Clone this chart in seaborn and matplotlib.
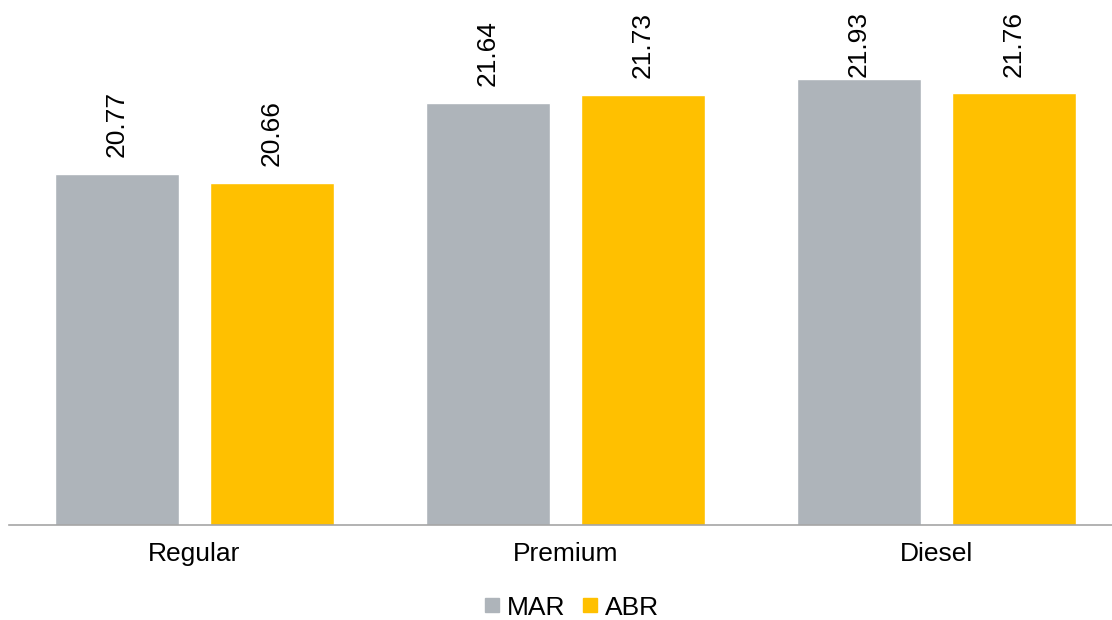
import matplotlib
matplotlib.use("Agg")
import matplotlib.pyplot as plt
from matplotlib.lines import Line2D
import seaborn as sns
import pandas as pd

categories = ["Regular", "Premium", "Diesel"]
mar_values = [20.77, 21.64, 21.93]
abr_values = [20.66, 21.73, 21.76]
series_names = ["MAR", "ABR"]
colors = {"MAR": "#AEB4BA", "ABR": "#FFC000"}

df = pd.DataFrame({
    "cat": categories * 2,
    "serie": [series_names[0]] * 3 + [series_names[1]] * 3,
    "val": mar_values + abr_values,
})

sns.set_style("white")
plt.rcParams["font.family"] = ["Liberation Sans", "DejaVu Sans"]
plt.rcParams["text.color"] = "black"
plt.rcParams["xtick.color"] = "black"

fig = plt.figure(figsize=(11.12, 6.2), dpi=100)
ax = fig.add_axes([9 / 1112, 95 / 620, 1103 / 1112, 525 / 620])

sns.barplot(data=df, x="cat", y="val", hue="serie", palette=colors,
            width=0.836, gap=0.2, ax=ax, legend=False, saturation=1)

ymin, ymax = 16.5, 22.89
ax.set_ylim(ymin, ymax)
ax.set_xlim(-0.5, 2.5 - 10 / 371)
ax.set_xlabel("")
ax.set_ylabel("")
ax.set_yticks([])
ax.tick_params(axis="x", length=0, labelsize=19, labelcolor="black", pad=12)
for s in ["top", "right", "left"]:
    ax.spines[s].set_visible(False)
ax.spines["bottom"].set_color("#A6A6A6")
ax.spines["bottom"].set_linewidth(1.2)

# labels sit above the bar, but are pushed down to stay inside the chart
per_px = (ymax - ymin) / 525
pad = 17 * per_px
label_len = 64 * per_px
label_top = ymax - 13 * per_px
for cont in ax.containers:
    for bar in cont:
        h = bar.get_height()
        y = min(h + pad, label_top - label_len)
        ax.text(bar.get_x() + bar.get_width() / 2, y, f"{h:.2f}",
                rotation=90, ha="center", va="bottom", fontsize=19,
                color="black")

handles = [Line2D([], [], marker="s", linestyle="", markersize=10.5,
                  color=colors[n]) for n in series_names]
fig.legend(handles, series_names, loc="center", bbox_to_anchor=(0.513, 0.02),
           ncol=2, frameon=False, fontsize=19, handletextpad=0.15,
           columnspacing=0.55, handlelength=0.8, labelcolor="black",
           borderpad=0.1)

fig.savefig("out.png", dpi=100)
